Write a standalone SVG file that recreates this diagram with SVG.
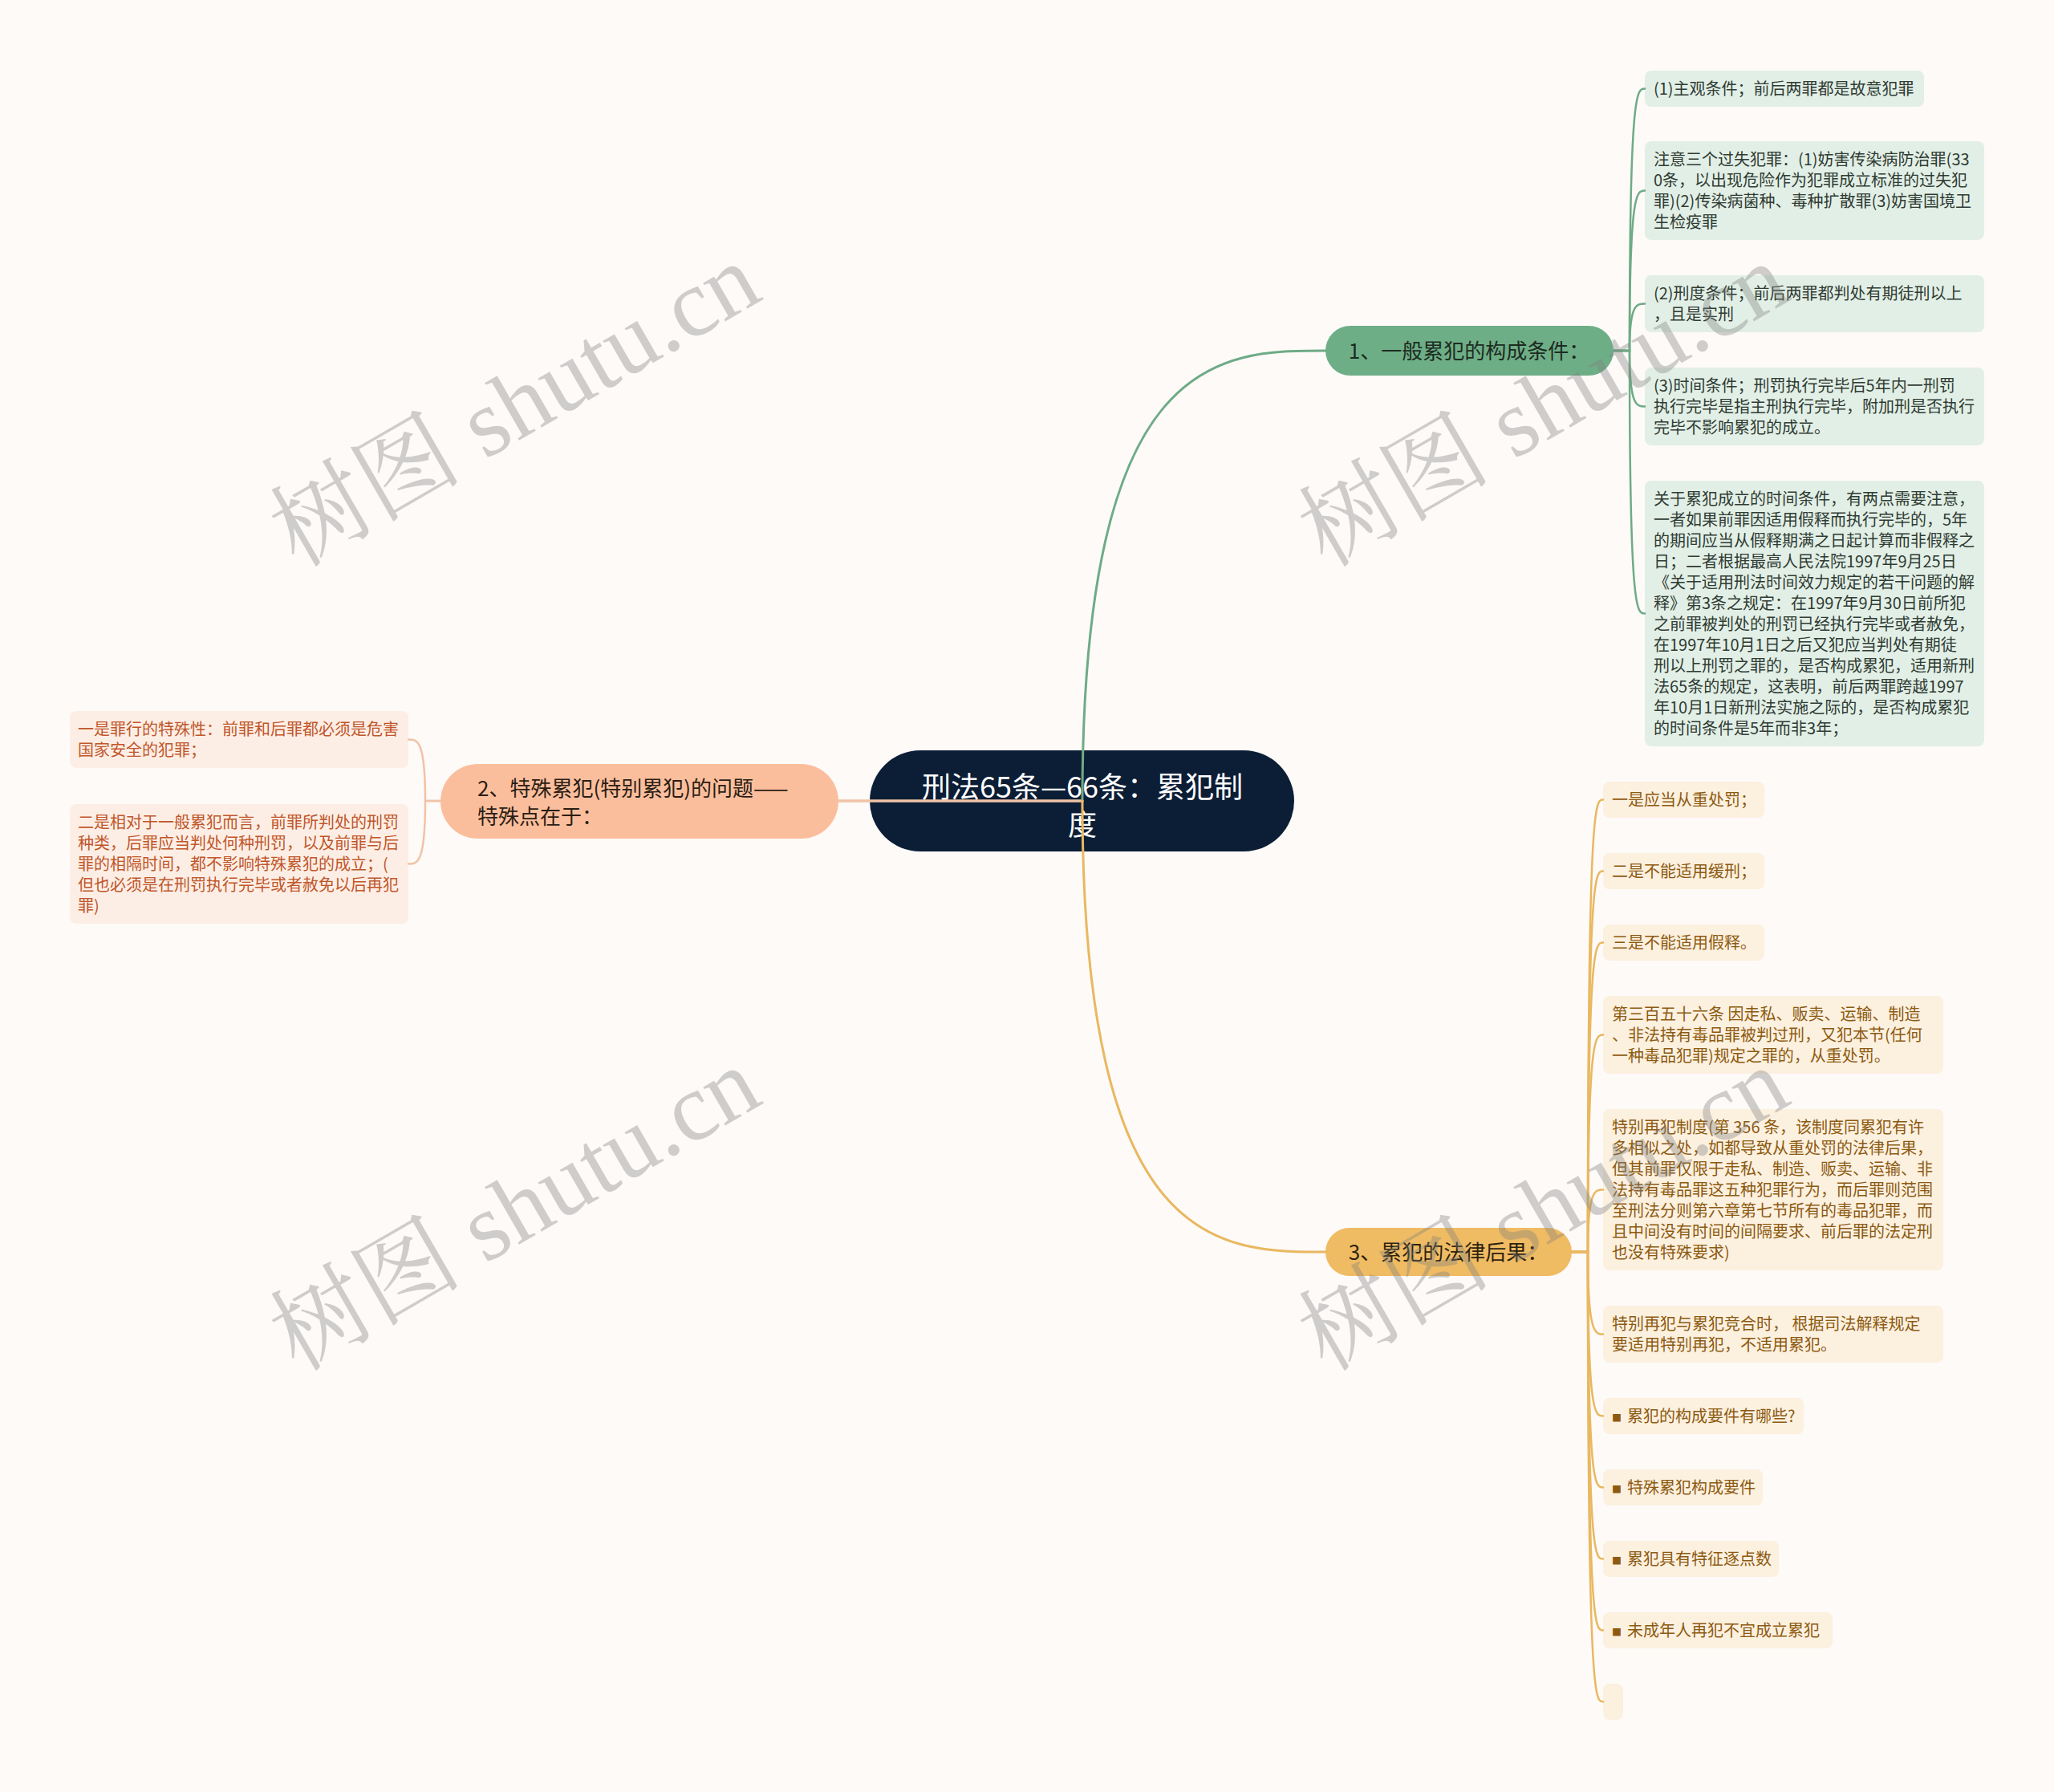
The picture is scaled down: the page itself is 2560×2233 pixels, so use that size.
<svg xmlns="http://www.w3.org/2000/svg" width="2560" height="2233" viewBox="0 0 2560 2233">
<style>
.t{font-family:"Noto Sans CJK SC","Noto Sans",sans-serif}
.lf{font-size:20px}
.g{fill:#2f3b33}
.y{fill:#8c5a10}
.p{fill:#c0562a}
.gl{fill:#e2efe6}
.yl{fill:#fcf0df}
.pl{fill:#fdeee5}
.c{fill:none;stroke-linecap:round}
.cg{stroke:#6fab86}
.cy{stroke:#e9b860}
.cp{stroke:#f0c3a6}
.wm{font-family:"Liberation Serif","Noto Serif CJK SC","Noto Sans CJK SC",serif;font-size:120px;fill:#808080;opacity:0.36}
</style>
<rect x="0" y="0" width="2560" height="2233" fill="#fdfaf8"/>

<g id="root">
<rect x="1084" y="935" width="529" height="126" rx="63" fill="#0c1e36"/>
<text class="t" x="1349" y="994" font-size="36" fill="#ffffff" text-anchor="middle">刑法65条—66条：累犯制</text>
<text class="t" x="1349" y="1041" font-size="36" fill="#ffffff" text-anchor="middle">度</text>
</g>

<g id="branch1">
<rect x="1652" y="406" width="359" height="62" rx="31" fill="#6eae86"/>
<text class="t" x="1831" y="447" font-size="26" fill="#1d2b22" text-anchor="middle">1、一般累犯的构成条件：</text>
</g>
<g id="branch2">
<rect x="549" y="952" width="496" height="93" rx="46.5" fill="#fbbe9c"/>
<text class="t" x="595" y="992" font-size="26" fill="#2b1d14">2、特殊累犯(特别累犯)的问题——</text>
<text class="t" x="595" y="1027" font-size="26" fill="#2b1d14">特殊点在于：</text>
</g>
<g id="branch3">
<rect x="1652" y="1530" width="307" height="60" rx="30" fill="#efbb63"/>
<text class="t" x="1805" y="1570" font-size="26" fill="#2d230f" text-anchor="middle">3、累犯的法律后果：</text>
</g>

<g id="g1"><rect class="gl" x="2050" y="88" width="348" height="45" rx="8"/>
<text class="t lf g" x="2061" y="118">(1)主观条件；前后两罪都是故意犯罪</text></g>
<g id="g2"><rect class="gl" x="2050" y="176" width="423" height="123" rx="8"/>
<text class="t lf g" x="2061" y="206">注意三个过失犯罪：(1)妨害传染病防治罪(33</text>
<text class="t lf g" x="2061" y="232">0条，以出现危险作为犯罪成立标准的过失犯</text>
<text class="t lf g" x="2061" y="258">罪)(2)传染病菌种、毒种扩散罪(3)妨害国境卫</text>
<text class="t lf g" x="2061" y="284">生检疫罪</text></g>
<g id="g3"><rect class="gl" x="2050" y="343" width="423" height="71" rx="8"/>
<text class="t lf g" x="2061" y="373">(2)刑度条件；前后两罪都判处有期徒刑以上</text>
<text class="t lf g" x="2061" y="399">，且是实刑</text></g>
<g id="g4"><rect class="gl" x="2050" y="458" width="423" height="97" rx="8"/>
<text class="t lf g" x="2061" y="488">(3)时间条件；刑罚执行完毕后5年内一刑罚</text>
<text class="t lf g" x="2061" y="514">执行完毕是指主刑执行完毕，附加刑是否执行</text>
<text class="t lf g" x="2061" y="540">完毕不影响累犯的成立。</text></g>
<g id="g5"><rect class="gl" x="2050" y="599" width="423" height="331" rx="8"/>
<text class="t lf g" x="2061" y="629">关于累犯成立的时间条件，有两点需要注意，</text>
<text class="t lf g" x="2061" y="655">一者如果前罪因适用假释而执行完毕的，5年</text>
<text class="t lf g" x="2061" y="681">的期间应当从假释期满之日起计算而非假释之</text>
<text class="t lf g" x="2061" y="707">日；二者根据最高人民法院1997年9月25日</text>
<text class="t lf g" x="2061" y="733">《关于适用刑法时间效力规定的若干问题的解</text>
<text class="t lf g" x="2061" y="759">释》第3条之规定：在1997年9月30日前所犯</text>
<text class="t lf g" x="2061" y="785">之前罪被判处的刑罚已经执行完毕或者赦免，</text>
<text class="t lf g" x="2061" y="811">在1997年10月1日之后又犯应当判处有期徒</text>
<text class="t lf g" x="2061" y="837">刑以上刑罚之罪的，是否构成累犯，适用新刑</text>
<text class="t lf g" x="2061" y="863">法65条的规定，这表明，前后两罪跨越1997</text>
<text class="t lf g" x="2061" y="889">年10月1日新刑法实施之际的，是否构成累犯</text>
<text class="t lf g" x="2061" y="915">的时间条件是5年而非3年；</text></g>

<g id="p1"><rect class="pl" x="87" y="886" width="422" height="71" rx="8"/>
<text class="t lf p" x="97" y="916">一是罪行的特殊性：前罪和后罪都必须是危害</text>
<text class="t lf p" x="97" y="942">国家安全的犯罪；</text></g>
<g id="p2"><rect class="pl" x="87" y="1002" width="422" height="149" rx="8"/>
<text class="t lf p" x="97" y="1032">二是相对于一般累犯而言，前罪所判处的刑罚</text>
<text class="t lf p" x="97" y="1058">种类，后罪应当判处何种刑罚，以及前罪与后</text>
<text class="t lf p" x="97" y="1084">罪的相隔时间，都不影响特殊累犯的成立；(</text>
<text class="t lf p" x="97" y="1110">但也必须是在刑罚执行完毕或者赦免以后再犯</text>
<text class="t lf p" x="97" y="1136">罪)</text></g>

<g id="y1"><rect class="yl" x="1998" y="974" width="201" height="45" rx="8"/>
<text class="t lf y" x="2009" y="1004">一是应当从重处罚；</text></g>
<g id="y2"><rect class="yl" x="1998" y="1063" width="201" height="45" rx="8"/>
<text class="t lf y" x="2009" y="1093">二是不能适用缓刑；</text></g>
<g id="y3"><rect class="yl" x="1998" y="1152" width="201" height="45" rx="8"/>
<text class="t lf y" x="2009" y="1182">三是不能适用假释。</text></g>
<g id="y4"><rect class="yl" x="1998" y="1241" width="424" height="97" rx="8"/>
<text class="t lf y" x="2009" y="1271">第三百五十六条 因走私、贩卖、运输、制造</text>
<text class="t lf y" x="2009" y="1297">、非法持有毒品罪被判过刑，又犯本节(任何</text>
<text class="t lf y" x="2009" y="1323">一种毒品犯罪)规定之罪的，从重处罚。</text></g>
<g id="y5"><rect class="yl" x="1998" y="1382" width="424" height="201" rx="8"/>
<text class="t lf y" x="2009" y="1412">特别再犯制度(第 356 条，该制度同累犯有许</text>
<text class="t lf y" x="2009" y="1438">多相似之处，如都导致从重处罚的法律后果，</text>
<text class="t lf y" x="2009" y="1464">但其前罪仅限于走私、制造、贩卖、运输、非</text>
<text class="t lf y" x="2009" y="1490">法持有毒品罪这五种犯罪行为，而后罪则范围</text>
<text class="t lf y" x="2009" y="1516">至刑法分则第六章第七节所有的毒品犯罪，而</text>
<text class="t lf y" x="2009" y="1542">且中间没有时间的间隔要求、前后罪的法定刑</text>
<text class="t lf y" x="2009" y="1568">也没有特殊要求)</text></g>
<g id="y6"><rect class="yl" x="1998" y="1627" width="424" height="71" rx="8"/>
<text class="t lf y" x="2009" y="1657">特别再犯与累犯竞合时， 根据司法解释规定</text>
<text class="t lf y" x="2009" y="1683">要适用特别再犯，不适用累犯。</text></g>
<g id="y7"><rect class="yl" x="1998" y="1742" width="250" height="45" rx="8"/>
<text class="t y" x="2009" y="1772"><tspan font-size="12">■</tspan><tspan x="2028" font-size="20">累犯的构成要件有哪些?</tspan></text></g>
<g id="y8"><rect class="yl" x="1998" y="1831" width="199" height="45" rx="8"/>
<text class="t y" x="2009" y="1861"><tspan font-size="12">■</tspan><tspan x="2028" font-size="20">特殊累犯构成要件</tspan></text></g>
<g id="y9"><rect class="yl" x="1998" y="1920" width="219" height="45" rx="8"/>
<text class="t y" x="2009" y="1950"><tspan font-size="12">■</tspan><tspan x="2028" font-size="20">累犯具有特征逐点数</tspan></text></g>
<g id="y10"><rect class="yl" x="1998" y="2009" width="286" height="45" rx="8"/>
<text class="t y" x="2009" y="2039"><tspan font-size="12">■</tspan><tspan x="2028" font-size="20">未成年人再犯不宜成立累犯</tspan></text></g>
<g id="y11"><rect class="yl" x="1998" y="2098" width="25" height="45" rx="8"/></g>

<g id="connectors">
<path class="c cp" stroke-width="3.5" d="M 1349 998 L 1045 998"/>
<path class="c cg" stroke-width="3" d="M 1349 998 C 1349 437, 1520 437, 1652 437"/>
<path class="c cy" stroke-width="3" d="M 1349 998 C 1349 1560, 1520 1560, 1652 1560"/>
<path class="c cg" stroke-width="2.5" d="M 2011 437 H 2031 C 2031 110.5, 2040 110.5, 2050 110.5"/>
<path class="c cg" stroke-width="2.5" d="M 2011 437 H 2031 C 2031 237.5, 2040 237.5, 2050 237.5"/>
<path class="c cg" stroke-width="2.5" d="M 2011 437 H 2031 C 2031 378.5, 2040 378.5, 2050 378.5"/>
<path class="c cg" stroke-width="2.5" d="M 2011 437 H 2031 C 2031 506.5, 2040 506.5, 2050 506.5"/>
<path class="c cg" stroke-width="2.5" d="M 2011 437 H 2031 C 2031 764.5, 2040 764.5, 2050 764.5"/>
<path class="c cp" stroke-width="2.5" d="M 549 998 H 530 C 530 921.5, 520 921.5, 509 921.5"/>
<path class="c cp" stroke-width="2.5" d="M 549 998 H 530 C 530 1076.5, 520 1076.5, 509 1076.5"/>
<path class="c cy" stroke-width="2.5" d="M 1959 1560 H 1979 C 1979 996.5, 1988 996.5, 1998 996.5"/>
<path class="c cy" stroke-width="2.5" d="M 1959 1560 H 1979 C 1979 1085.5, 1988 1085.5, 1998 1085.5"/>
<path class="c cy" stroke-width="2.5" d="M 1959 1560 H 1979 C 1979 1174.5, 1988 1174.5, 1998 1174.5"/>
<path class="c cy" stroke-width="2.5" d="M 1959 1560 H 1979 C 1979 1289.5, 1988 1289.5, 1998 1289.5"/>
<path class="c cy" stroke-width="2.5" d="M 1959 1560 H 1979 C 1979 1482.5, 1988 1482.5, 1998 1482.5"/>
<path class="c cy" stroke-width="2.5" d="M 1959 1560 H 1979 C 1979 1662.5, 1988 1662.5, 1998 1662.5"/>
<path class="c cy" stroke-width="2.5" d="M 1959 1560 H 1979 C 1979 1764.5, 1988 1764.5, 1998 1764.5"/>
<path class="c cy" stroke-width="2.5" d="M 1959 1560 H 1979 C 1979 1853.5, 1988 1853.5, 1998 1853.5"/>
<path class="c cy" stroke-width="2.5" d="M 1959 1560 H 1979 C 1979 1942.5, 1988 1942.5, 1998 1942.5"/>
<path class="c cy" stroke-width="2.5" d="M 1959 1560 H 1979 C 1979 2031.5, 1988 2031.5, 1998 2031.5"/>
<path class="c cy" stroke-width="2.5" d="M 1959 1560 H 1979 C 1979 2120.5, 1988 2120.5, 1998 2120.5"/>
</g>

<g id="watermarks">
<text class="wm" x="662" y="540" text-anchor="middle" transform="rotate(-30 662 540)">树图 shutu.cn</text>
<text class="wm" x="1944" y="540" text-anchor="middle" transform="rotate(-30 1944 540)">树图 shutu.cn</text>
<text class="wm" x="662" y="1542" text-anchor="middle" transform="rotate(-30 662 1542)">树图 shutu.cn</text>
<text class="wm" x="1944" y="1542" text-anchor="middle" transform="rotate(-30 1944 1542)">树图 shutu.cn</text>
</g>
</svg>
